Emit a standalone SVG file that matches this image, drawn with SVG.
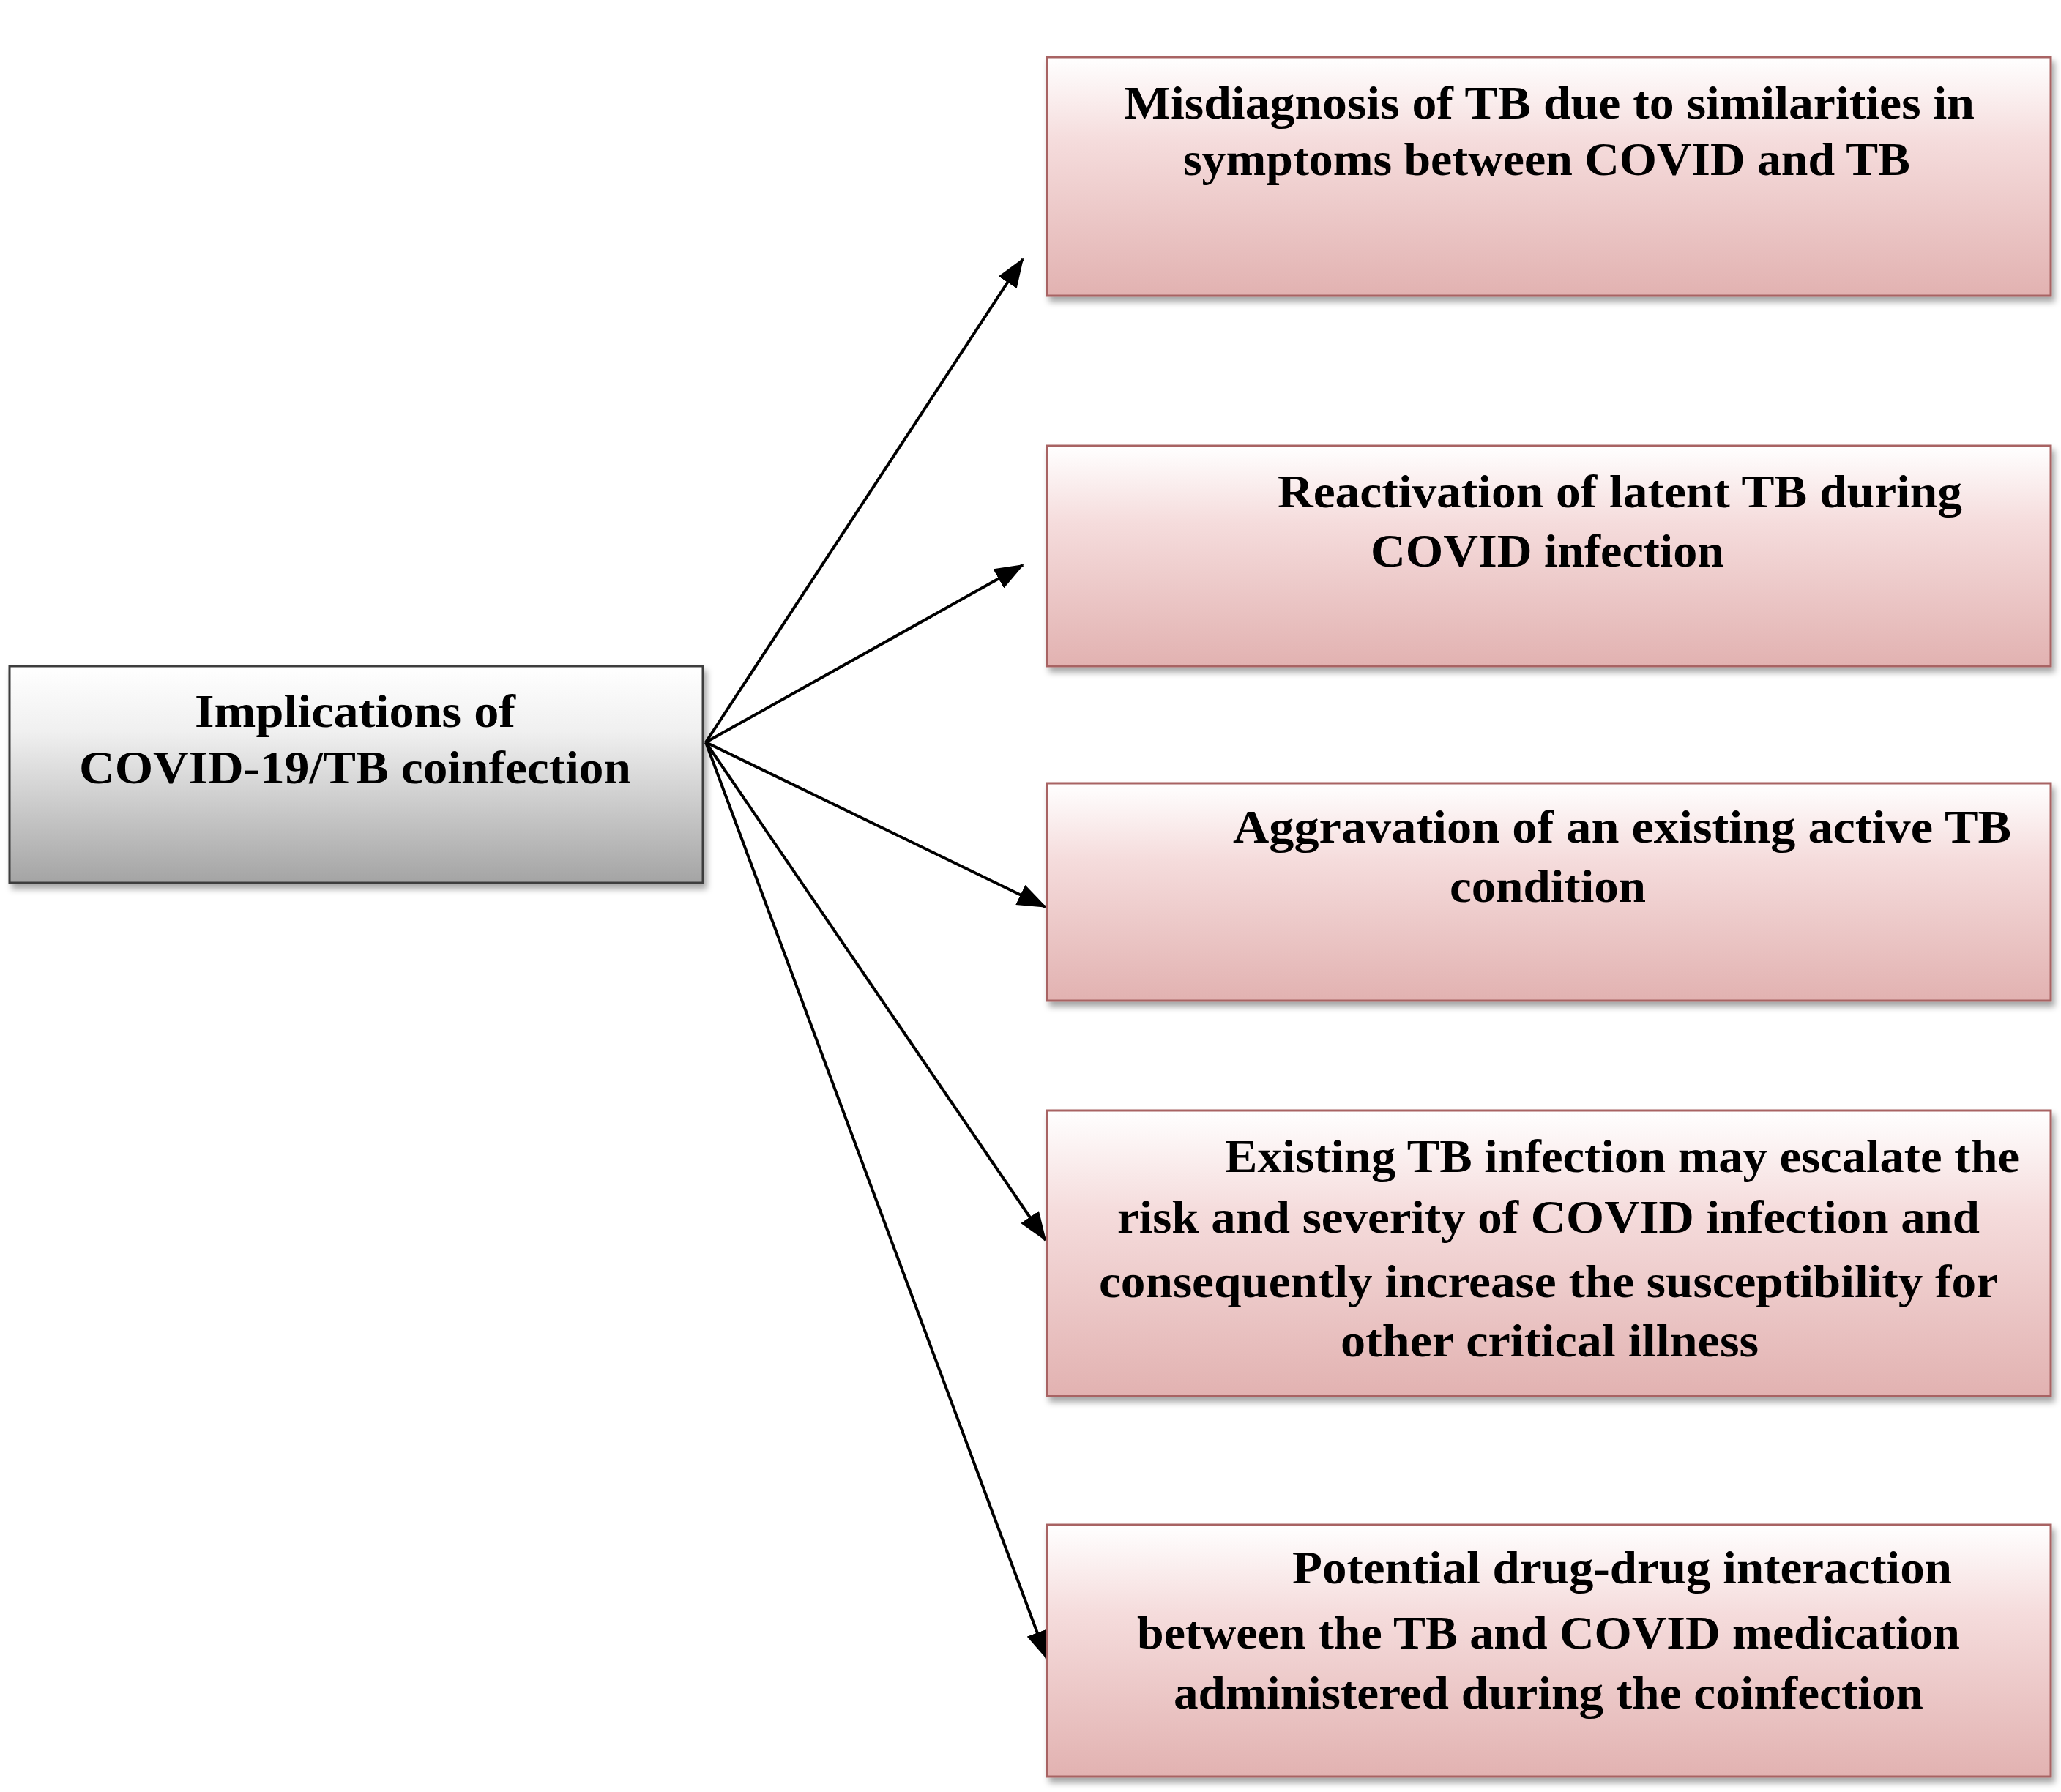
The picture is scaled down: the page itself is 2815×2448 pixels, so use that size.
<svg xmlns="http://www.w3.org/2000/svg" width="2815" height="2448" viewBox="0 0 2815 2448">
<style>
.t{font-family:"Liberation Serif","Times New Roman",serif;font-weight:bold;font-size:64px;fill:#000}
.pink{fill:url(#gPink);stroke:#a86464;stroke-width:3}
.gray{fill:url(#gGray);stroke:#3c3c3c;stroke-width:3}
.conn{stroke:#000;stroke-width:4;fill:none;marker-end:url(#ah)}
</style>
<defs>
<linearGradient id="gPink" x1="0" y1="0" x2="0" y2="1">
<stop offset="0" stop-color="#ffffff"/>
<stop offset="0.35" stop-color="#f5dcdc"/>
<stop offset="1" stop-color="#e2b2b1"/>
</linearGradient>
<linearGradient id="gGray" x1="0" y1="0" x2="0" y2="1">
<stop offset="0" stop-color="#ffffff"/>
<stop offset="0.3" stop-color="#f0f0f0"/>
<stop offset="1" stop-color="#a4a4a4"/>
</linearGradient>
<filter id="sh" x="-5%" y="-5%" width="110%" height="115%">
<feDropShadow dx="4" dy="7" stdDeviation="4" flood-color="#000" flood-opacity="0.35"/>
</filter>
<marker id="ah" markerUnits="userSpaceOnUse" markerWidth="40" markerHeight="30" refX="38" refY="15" orient="auto">
<path d="M0,0 L40,15 L0,30 Z" fill="#000"/>
</marker>
</defs>
<rect width="2815" height="2448" fill="#fff"/>
<g id="connectors">
<line class="conn" x1="964" y1="1014" x2="1397" y2="354"/>
<line class="conn" x1="964" y1="1014" x2="1397" y2="772"/>
<line class="conn" x1="964" y1="1014" x2="1428" y2="1239"/>
<line class="conn" x1="964" y1="1014" x2="1428" y2="1694"/>
<line class="conn" x1="964" y1="1014" x2="1430" y2="2266"/>
</g>
<g id="n0">
<rect class="gray" x="13" y="910" width="947" height="296" filter="url(#sh)"/>
<text class="t" x="266" y="993" textLength="438" lengthAdjust="spacingAndGlyphs">Implications of</text>
<text class="t" x="108" y="1070" textLength="754" lengthAdjust="spacingAndGlyphs">COVID-19/TB coinfection</text>
</g>
<g id="n1">
<rect class="pink" x="1430" y="78" width="1371" height="326" filter="url(#sh)"/>
<text class="t" x="1535" y="162" textLength="1162" lengthAdjust="spacingAndGlyphs">Misdiagnosis of TB due to similarities in</text>
<text class="t" x="1616" y="239" textLength="993" lengthAdjust="spacingAndGlyphs">symptoms between COVID and TB</text>
</g>
<g id="n2">
<rect class="pink" x="1430" y="609" width="1371" height="301" filter="url(#sh)"/>
<text class="t" x="1745" y="693" textLength="935" lengthAdjust="spacingAndGlyphs">Reactivation of latent TB during</text>
<text class="t" x="1872" y="774" textLength="483" lengthAdjust="spacingAndGlyphs">COVID infection</text>
</g>
<g id="n3">
<rect class="pink" x="1430" y="1070" width="1371" height="297" filter="url(#sh)"/>
<text class="t" x="1684" y="1151" textLength="1063" lengthAdjust="spacingAndGlyphs">Aggravation of an existing active TB</text>
<text class="t" x="1980" y="1232" textLength="268" lengthAdjust="spacingAndGlyphs">condition</text>
</g>
<g id="n4">
<rect class="pink" x="1430" y="1517" width="1371" height="390" filter="url(#sh)"/>
<text class="t" x="1673" y="1601" textLength="1085" lengthAdjust="spacingAndGlyphs">Existing TB infection may escalate the</text>
<text class="t" x="1526" y="1684" textLength="1178" lengthAdjust="spacingAndGlyphs">risk and severity of COVID infection and</text>
<text class="t" x="1501" y="1772" textLength="1228" lengthAdjust="spacingAndGlyphs">consequently increase the susceptibility for</text>
<text class="t" x="1831" y="1853" textLength="571" lengthAdjust="spacingAndGlyphs">other critical illness</text>
</g>
<g id="n5">
<rect class="pink" x="1430" y="2083" width="1371" height="344" filter="url(#sh)"/>
<text class="t" x="1765" y="2163" textLength="901" lengthAdjust="spacingAndGlyphs">Potential drug-drug interaction</text>
<text class="t" x="1553" y="2252" textLength="1124" lengthAdjust="spacingAndGlyphs">between the TB and COVID medication</text>
<text class="t" x="1603" y="2334" textLength="1024" lengthAdjust="spacingAndGlyphs">administered during the coinfection</text>
</g>
</svg>
